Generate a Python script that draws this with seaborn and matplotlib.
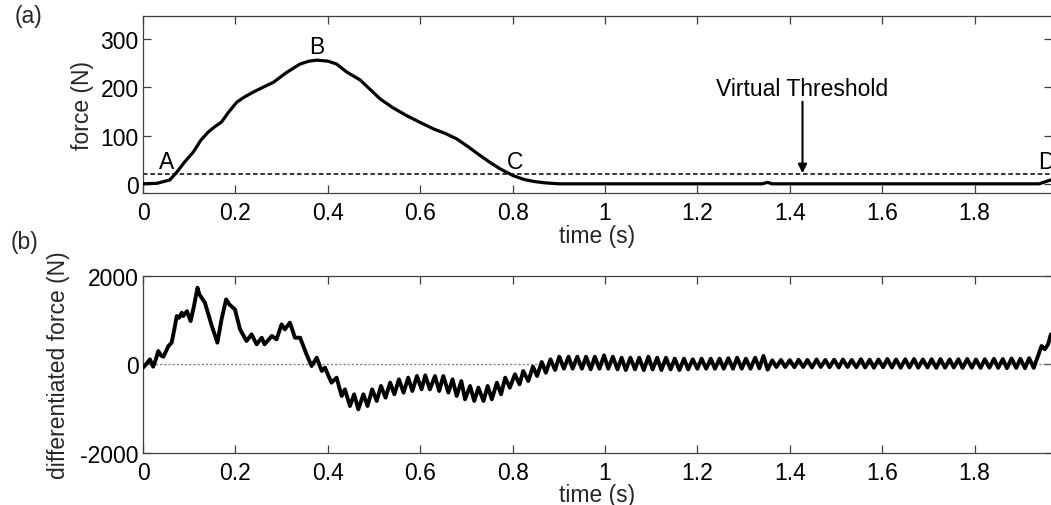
import matplotlib
matplotlib.use("Agg")
import matplotlib.pyplot as plt
import numpy as np
import pandas as pd
import seaborn as sns

# ---- data ----
force_time = [0.000, 0.030, 0.058, 0.073, 0.090, 0.109, 0.125, 0.141, 0.155, 0.170,
              0.185, 0.203, 0.220, 0.239, 0.260, 0.282, 0.310, 0.340, 0.360, 0.376,
              0.400, 0.419, 0.440, 0.470, 0.513, 0.540, 0.571, 0.600, 0.628, 0.655,
              0.679, 0.705, 0.729, 0.750, 0.773, 0.801, 0.825, 0.845, 0.870, 0.900,
              1.000, 1.340, 1.352, 1.362, 1.500, 1.940, 1.952, 1.965]
force_N = [0, 1, 8, 24, 45, 66, 90, 107, 118, 128,
           148, 169, 180, 190, 200, 210, 230, 248, 254, 256,
           254, 248, 232, 215, 176, 158, 141, 127, 114, 104,
           93, 76, 59, 45, 31, 17, 9, 5, 2, 0,
           0, 0, 3, 0, 0, 0, 4, 8]

diff_time = [0.000, 0.008, 0.015, 0.022, 0.028, 0.033, 0.039, 0.044, 0.050, 0.055,
             0.062, 0.068, 0.073, 0.078, 0.084, 0.087, 0.095, 0.103, 0.110, 0.118,
             0.122, 0.134, 0.149, 0.161, 0.170, 0.180, 0.187, 0.199, 0.210, 0.224,
             0.235, 0.246, 0.257, 0.263, 0.279, 0.289, 0.300, 0.307, 0.318, 0.329,
             0.340, 0.354, 0.365, 0.376, 0.387, 0.394, 0.401, 0.408, 0.419, 0.430,
             0.437, 0.448, 0.457, 0.466, 0.477, 0.486, 0.496, 0.506, 0.515, 0.525,
             0.535, 0.544, 0.554, 0.564, 0.574, 0.583, 0.593, 0.603, 0.611, 0.621,
             0.632, 0.641, 0.650, 0.661, 0.670, 0.679, 0.689, 0.697, 0.708, 0.717,
             0.726, 0.737, 0.746, 0.755, 0.766, 0.775, 0.784, 0.794, 0.805, 0.815,
             0.823, 0.834, 0.844, 0.853, 0.863, 0.872, 0.882, 0.892, 0.901, 0.911,
             0.921, 0.930, 0.940, 0.950, 0.959, 0.969, 0.978, 0.988, 0.998, 1.007,
             1.017, 1.027, 1.036, 1.045, 1.055, 1.065, 1.074, 1.084, 1.094, 1.103,
             1.113, 1.122, 1.132, 1.142, 1.151, 1.161, 1.171, 1.180, 1.190, 1.200,
             1.209, 1.219, 1.229, 1.238, 1.248, 1.257, 1.267, 1.277, 1.286, 1.296,
             1.305, 1.315, 1.325, 1.334, 1.343, 1.352, 1.362, 1.371, 1.381, 1.390,
             1.400, 1.410, 1.419, 1.429, 1.438, 1.448, 1.458, 1.467, 1.477, 1.486,
             1.496, 1.506, 1.515, 1.525, 1.534, 1.544, 1.554, 1.563, 1.573, 1.582,
             1.592, 1.602, 1.611, 1.621, 1.630, 1.640, 1.650, 1.659, 1.669, 1.678,
             1.688, 1.698, 1.707, 1.717, 1.726, 1.736, 1.746, 1.755, 1.765, 1.774,
             1.784, 1.794, 1.803, 1.813, 1.822, 1.832, 1.842, 1.851, 1.861, 1.870,
             1.880, 1.890, 1.899, 1.909, 1.918, 1.928, 1.945, 1.952, 1.959, 1.965]
diff_N = [-75, 20, 113, -52, 120, 300, 200, 173, 300, 413,
          489, 800, 1090, 1050, 1165, 1090, 1200, 976, 1300, 1730,
          1580, 1390, 864, 489, 1015, 1466, 1350, 1240, 790, 526,
          676, 451, 601, 451, 640, 564, 902, 790, 940, 601,
          601, 225, -38, 150, -150, -75, -250, -413, -300, -714,
          -564, -940, -676, -1015, -676, -940, -564, -826, -488, -751,
          -413, -676, -338, -638, -300, -601, -263, -564, -248, -564,
          -263, -601, -263, -638, -338, -714, -376, -789, -488, -826,
          -526, -826, -488, -789, -413, -676, -300, -526, -225, -451,
          -150, -376, -52, -263, 53, -188, 113, -127, 173, -97,
          173, -97, 173, -98, 173, -113, 173, -98, 203, -98,
          173, -113, 150, -128, 150, -113, 150, -128, 173, -113,
          150, -128, 150, -113, 128, -128, 128, -113, 113, -98,
          128, -98, 128, -98, 128, -98, 140, -98, 150, -98,
          128, -98, 150, -90, 190, -120, 90, -60, 100, -60,
          95, -65, 105, -60, 100, -70, 110, -60, 100, -65,
          105, -70, 110, -60, 100, -65, 115, -70, 105, -75,
          110, -65, 120, -70, 110, -75, 115, -70, 120, -75,
          110, -70, 115, -80, 120, -75, 110, -70, 115, -80,
          120, -75, 110, -80, 115, -75, 125, -80, 120, -85,
          130, -80, 125, -85, 140, -80, 415, 340, 451, 676]

threshold_N = 20
x_ticks = [0, 0.2, 0.4, 0.6, 0.8, 1.0, 1.2, 1.4, 1.6, 1.8]
x_tick_labels = ["0", "0.2", "0.4", "0.6", "0.8", "1", "1.2", "1.4", "1.6", "1.8"]
force_ticks = [0, 100, 200, 300]
diff_ticks = [-2000, 0, 2000]
point_labels = ["A", "B", "C", "D"]
point_time = [0.052, 0.377, 0.805, 1.955]
point_force = [47, 284, 47, 47]

# ---- style ----
sns.set_theme(style="ticks")
plt.rcParams["font.family"] = ["Liberation Sans", "DejaVu Sans"]
plt.rcParams["axes.unicode_minus"] = False
FS = 16.5
SPINE = "#404040"

fig = plt.figure(figsize=(10.51, 5.06), dpi=100)
W, H = 1051.0, 506.0
left_px, right_px = 143, 1052
ax_a = fig.add_axes([left_px / W, 1 - 194 / H, (right_px - left_px) / W, 177.3 / H])
ax_b = fig.add_axes([left_px / W, 1 - 454 / H, (right_px - left_px) / W, 177.3 / H])

xmax = (right_px - left_px) / 462.0

df_force = pd.DataFrame({"time": force_time, "force": force_N})
df_diff = pd.DataFrame({"time": diff_time, "diff": diff_N})

# (a) force
ax_a.axhline(threshold_N, color="black", lw=1.1, ls=(0, (3, 1.8)), zorder=1)
sns.lineplot(data=df_force, x="time", y="force", ax=ax_a, color="black",
             linewidth=2.3, estimator=None, sort=False, zorder=3)
ax_a.set_xlim(0, xmax)
ax_a.set_ylim(-19, 348)
ax_a.set_yticks(force_ticks)
ax_a.set_ylabel("")
ax_a.set_xlabel("")
for lab, t, f in zip(point_labels, point_time, point_force):
    ax_a.text(t, f, lab, ha="center", va="center", fontsize=FS, color="black", clip_on=False)
ax_a.text(1.4275, 197, "Virtual Threshold", ha="center", va="center", fontsize=FS, color="black")
ax_a.annotate("", xy=(1.4275, 22), xytext=(1.4275, 170),
              arrowprops=dict(arrowstyle="-|>", color="black", lw=1.5,
                              mutation_scale=13, shrinkA=0, shrinkB=0))

# (b) differentiated force
ax_b.axhline(0, color="#808080", lw=1.0, ls=(0, (1.5, 1.5)), zorder=1)
sns.lineplot(data=df_diff, x="time", y="diff", ax=ax_b, color="black",
             linewidth=2.8, estimator=None, sort=False, zorder=3)
ax_b.set_xlim(0, xmax)
ax_b.set_ylim(-2000, 2000)
ax_b.set_yticks(diff_ticks)
ax_b.set_ylabel("")
ax_b.set_xlabel("")

for ax in (ax_a, ax_b):
    ax.set_xticks(x_ticks)
    ax.set_xticklabels(x_tick_labels)
    ax.tick_params(axis="both", direction="in", length=6, width=0.9, color=SPINE,
                   labelsize=FS, top=True, right=True, colors="black")
    ax.tick_params(axis="x", pad=6)
    ax.tick_params(axis="y", pad=3)
    for s in ax.spines.values():
        s.set_visible(True)
        s.set_color(SPINE)
        s.set_linewidth(0.9)
    ax.tick_params(axis="both", color=SPINE)

# axis labels and panel tags
fig.text(597 / W, 1 - 237 / H, "time (s)", ha="center", va="center", fontsize=FS)
fig.text(597 / W, 1 - 496 / H, "time (s)", ha="center", va="center", fontsize=FS)
fig.text(82 / W, 1 - 105 / H, "force (N)", ha="center", va="center", rotation=90, fontsize=FS)
fig.text(59 / W, 1 - 365 / H, "differentiated force (N)", ha="center", va="center",
         rotation=90, fontsize=FS)
fig.text(28 / W, 1 - 16 / H, "(a)", ha="center", va="center", fontsize=FS)
fig.text(25 / W, 1 - 243 / H, "(b)", ha="center", va="center", fontsize=FS)

fig.savefig("out.png", dpi=100)
plt.close(fig)
